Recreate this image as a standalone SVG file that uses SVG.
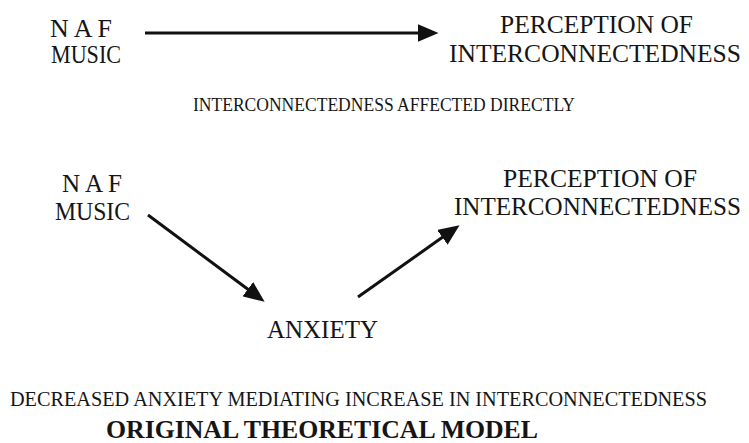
<svg xmlns="http://www.w3.org/2000/svg" width="749" height="443" viewBox="0 0 749 443">
  <style>
    text { font-family: 'Liberation Serif', 'Times New Roman', serif; fill: #151515; }
    .lbl { font-size: 25px; }
    .lbl2 { font-size: 25px; }
    .cap { font-size: 19px; }
    .cap2 { font-size: 20px; }
    .title { font-size: 26px; font-weight: bold; }
    .conn { stroke: #111; stroke-width: 3; fill: none; marker-end: url(#head); }
  </style>
  <defs>
    <marker id="head" markerUnits="userSpaceOnUse" markerWidth="21" markerHeight="18" refX="0.5" refY="9" orient="auto">
      <path d="M0,0 L21,9 L0,18 z" fill="#111"/>
    </marker>
  </defs>
  <rect width="749" height="443" fill="#fff"/>

  <g id="naf-music-1">
    <text class="lbl" x="50" y="37" textLength="62" lengthAdjust="spacingAndGlyphs">N A F</text>
    <text class="lbl" x="51" y="63" textLength="70" lengthAdjust="spacingAndGlyphs">MUSIC</text>
  </g>
  <g id="perception-1">
    <text class="lbl" x="500" y="33" textLength="193" lengthAdjust="spacingAndGlyphs">PERCEPTION OF</text>
    <text class="lbl" x="449" y="62" textLength="292" lengthAdjust="spacingAndGlyphs">INTERCONNECTEDNESS</text>
  </g>
  <g id="caption-1">
    <text class="cap" x="193" y="111" textLength="382" lengthAdjust="spacingAndGlyphs">INTERCONNECTEDNESS AFFECTED DIRECTLY</text>
  </g>

  <g id="naf-music-2">
    <text class="lbl2" x="62" y="192" textLength="60" lengthAdjust="spacingAndGlyphs">N A F</text>
    <text class="lbl2" x="55" y="220" textLength="75" lengthAdjust="spacingAndGlyphs">MUSIC</text>
  </g>
  <g id="perception-2">
    <text class="lbl2" x="503" y="187" textLength="194" lengthAdjust="spacingAndGlyphs">PERCEPTION OF</text>
    <text class="lbl2" x="454" y="215" textLength="287" lengthAdjust="spacingAndGlyphs">INTERCONNECTEDNESS</text>
  </g>
  <g id="anxiety">
    <text class="lbl2" x="267" y="338" textLength="111" lengthAdjust="spacingAndGlyphs">ANXIETY</text>
  </g>
  <g id="caption-2">
    <text class="cap2" x="10" y="406" textLength="697" lengthAdjust="spacingAndGlyphs">DECREASED ANXIETY MEDIATING INCREASE IN INTERCONNECTEDNESS</text>
  </g>
  <g id="title">
    <text class="title" x="106" y="438" textLength="432" lengthAdjust="spacingAndGlyphs">ORIGINAL THEORETICAL MODEL</text>
  </g>

  <g id="connectors">
    <line class="conn" x1="145" y1="33" x2="418" y2="33"/>
    <line class="conn" x1="148" y1="215" x2="248.2" y2="289.5"/>
    <line class="conn" x1="358" y1="297" x2="442.8" y2="237.1"/>
  </g>
</svg>
